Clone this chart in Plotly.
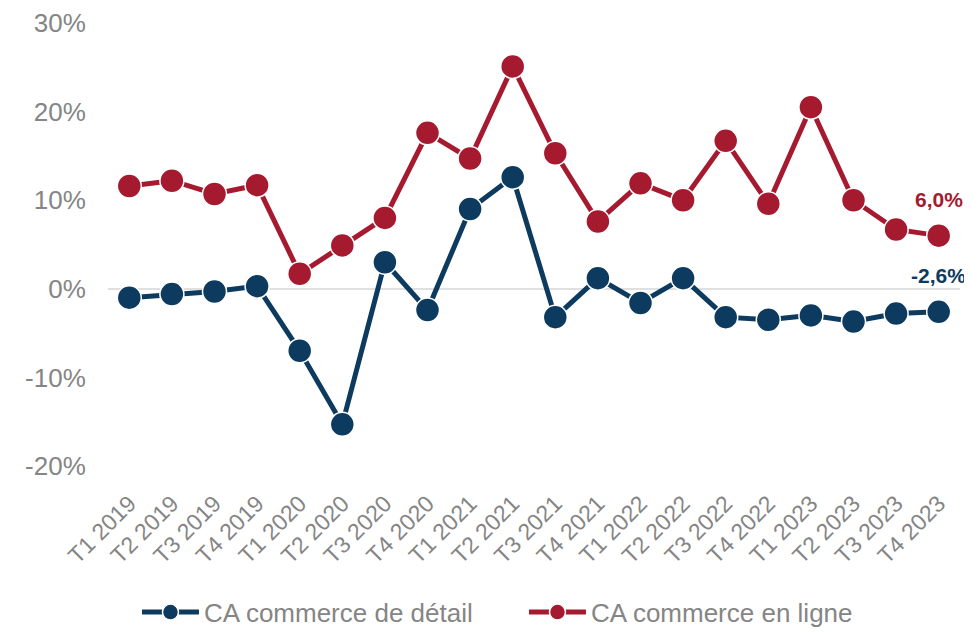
import plotly.graph_objects as go

categories = ["T1 2019", "T2 2019", "T3 2019", "T4 2019",
              "T1 2020", "T2 2020", "T3 2020", "T4 2020",
              "T1 2021", "T2 2021", "T3 2021", "T4 2021",
              "T1 2022", "T2 2022", "T3 2022", "T4 2022",
              "T1 2023", "T2 2023", "T3 2023", "T4 2023"]

detail = [-1.0, -0.6, -0.3, 0.3, -7.0, -15.3, 3.0, -2.4, 9.0, 12.6,
          -3.2, 1.2, -1.6, 1.2, -3.2, -3.5, -3.0, -3.7, -2.8, -2.6]

en_ligne = [11.6, 12.2, 10.7, 11.7, 1.7, 4.9, 8.0, 17.6, 14.7, 25.1,
            15.3, 7.6, 11.9, 10.0, 16.7, 9.6, 20.5, 10.0, 6.7, 6.0]

y_ticks = [-20, -10, 0, 10, 20, 30]
y_tick_text = ["-20%", "-10%", "0%", "10%", "20%", "30%"]

BLUE = "#0D3B5F"
RED = "#A61A30"
GRAY = "#858585"
FONT = "Liberation Sans, Arial, sans-serif"


def fmt(v):
    return f"{v:.1f}%".replace(".", ",")


fig = go.Figure()
for name, vals, col in [("CA commerce de détail", detail, BLUE),
                        ("CA commerce en ligne", en_ligne, RED)]:
    fig.add_trace(go.Scatter(
        x=categories, y=vals, name=name,
        mode="lines+markers",
        line=dict(color=col, width=5),
        marker=dict(size=24, color=col, line=dict(color="white", width=1.5)),
        cliponaxis=False,
    ))
    fig.add_annotation(
        x=categories[-1], y=vals[-1], text=f"<b>{fmt(vals[-1])}</b>",
        showarrow=False, yshift=36, yanchor="middle", xanchor="center",
        font=dict(family=FONT, size=21, color=col),
    )

# page body adds an 8px offset, so the figure is 8px smaller
fig.update_layout(
    width=964, height=626,
    margin=dict(l=100, r=12, t=15, b=168, autoexpand=False),
    paper_bgcolor="white", plot_bgcolor="white",
    font=dict(family=FONT, color=GRAY, size=26),
    showlegend=True,
    legend=dict(orientation="h",
                x=0.034, xanchor="left", y=-0.33, yanchor="middle",
                font=dict(size=26, color=GRAY), itemwidth=57,
                entrywidth=315, entrywidthmode="pixels",
                traceorder="normal"),
)
fig.update_xaxes(
    range=[-0.5, len(categories) - 0.5],
    tickangle=-45, showgrid=False, showline=False, zeroline=False,
    tickfont=dict(size=23, color=GRAY), ticks="outside", ticklen=14,
    tickcolor="rgba(0,0,0,0)", automargin=False,
)
fig.update_yaxes(
    range=[-20, 30], tickmode="array", tickvals=y_ticks, ticktext=y_tick_text,
    showgrid=False, zeroline=True, zerolinecolor="#E0E0E0", zerolinewidth=2,
    tickfont=dict(size=26, color=GRAY), ticks="outside", ticklen=16,
    tickcolor="rgba(0,0,0,0)", showline=False, automargin=False,
)

fig.write_html("out.html")
